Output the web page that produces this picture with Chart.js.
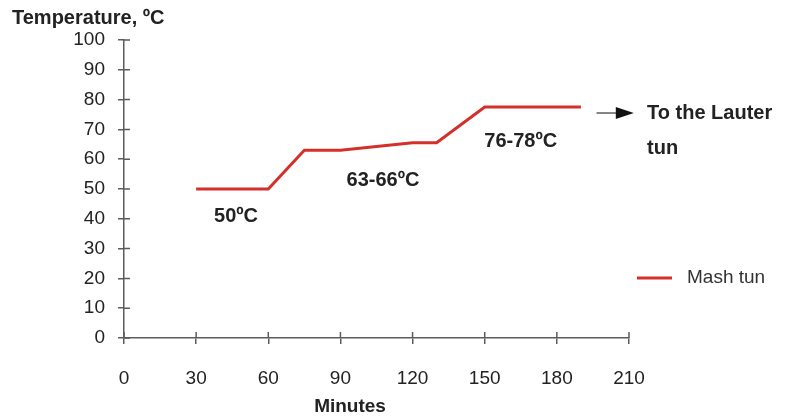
<!DOCTYPE html>
<html>
<head>
<meta charset="utf-8">
<script src="https://cdn.jsdelivr.net/npm/chart.js@4"></script>
<style>
  html, body { margin: 0; padding: 0; background: #fff; }
  #wrap { width: 788px; height: 418px; }
</style>
</head>
<body>
<div id="wrap"><canvas id="mashChart" width="788" height="418"></canvas></div>
<script>
// mashing profile
const minutes = [30, 60, 75, 90, 120, 130, 150, 190];
const temps = [50, 50, 63, 63, 65.5, 65.5, 77.5, 77.5];
const xTicks = [0, 30, 60, 90, 120, 150, 180, 210];
const yTicks = [0, 10, 20, 30, 40, 50, 60, 70, 80, 90, 100];

// stage labels (in minutes / degrees)
const stageText = ['50ºC', '63-66ºC', '76-78ºC'];
const stageX = [46.6, 107.7, 165];
const stageY = [40.9, 52.7, 65.8];

const FONT = "'Liberation Sans', Arial, sans-serif";
const RED = '#d4302b';
const AXIS = '#5c5c5c';

// inner tick marks, stage labels, arrow, x title and legend
const extras = {
  id: 'extras',
  afterDraw(chart) {
    const { ctx, chartArea } = chart;
    const xs = chart.scales.x, ys = chart.scales.y;
    ctx.save();

    ctx.strokeStyle = AXIS;
    ctx.lineWidth = 1.5;
    ctx.beginPath();
    ys.ticks.forEach((t, i) => {
      const py = ys.getPixelForTick(i);
      ctx.moveTo(xs.left, py); ctx.lineTo(xs.left + 6, py);
    });
    xs.ticks.forEach((t, i) => {
      const px = xs.getPixelForTick(i);
      ctx.moveTo(px, ys.bottom); ctx.lineTo(px, ys.bottom - 6);
    });
    ctx.stroke();

    ctx.fillStyle = '#222';
    ctx.font = 'bold 20px ' + FONT;
    ctx.textAlign = 'center';
    ctx.textBaseline = 'middle';
    stageText.forEach((s, i) => {
      ctx.fillText(s, xs.getPixelForValue(stageX[i]), ys.getPixelForValue(stageY[i]));
    });

    // x axis title sits a bit left of the axis middle
    ctx.font = 'bold 19px ' + FONT;
    ctx.fillText('Minutes', xs.getPixelForValue(94), chart.height - 11);

    // arrow to the lauter tun
    ctx.font = 'bold 20px ' + FONT;
    const ay = ys.getPixelForValue(75.5);
    const ax0 = xs.getPixelForValue(196.5);
    const ax1 = xs.getPixelForValue(212);
    ctx.strokeStyle = '#333';
    ctx.lineWidth = 1.2;
    ctx.beginPath();
    ctx.moveTo(ax0, ay); ctx.lineTo(ax1 - 16, ay);
    ctx.stroke();
    ctx.fillStyle = '#111';
    ctx.beginPath();
    ctx.moveTo(ax1, ay); ctx.lineTo(ax1 - 18, ay - 6); ctx.lineTo(ax1 - 18, ay + 6);
    ctx.closePath();
    ctx.fill();

    ctx.fillStyle = '#222';
    ctx.textAlign = 'left';
    const tx = xs.getPixelForValue(217.5);
    ctx.fillText('To the Lauter', tx, ay);
    ctx.fillText('tun', tx, ys.getPixelForValue(63.6));

    // legend
    const ds = chart.data.datasets[0];
    const ly = chartArea.bottom - 60;
    const lx = chartArea.right + 8;
    ctx.strokeStyle = ds.borderColor;
    ctx.lineWidth = 3;
    ctx.beginPath();
    ctx.moveTo(lx, ly); ctx.lineTo(lx + 35, ly);
    ctx.stroke();
    ctx.fillStyle = '#333';
    ctx.font = '19px ' + FONT;
    ctx.fillText(ds.label, lx + 50, ly);

    ctx.restore();
  }
};

const ctx = document.getElementById('mashChart').getContext('2d');
new Chart(ctx, {
  type: 'line',
  data: {
    datasets: [{
      label: 'Mash tun',
      data: minutes.map((m, i) => ({ x: m, y: temps[i] })),
      borderColor: RED,
      borderWidth: 3,
      pointRadius: 0,
      tension: 0,
      fill: false
    }]
  },
  options: {
    responsive: false,
    animation: false,
    layout: { padding: { left: 12, right: 159, top: 0, bottom: 0 } },
    plugins: {
      legend: { display: false },
      tooltip: { enabled: false },
      title: {
        display: true,
        text: 'Temperature, ºC',
        align: 'start',
        color: '#222',
        font: { family: FONT, size: 20, weight: 'bold' },
        padding: { top: 6, bottom: 10 }
      }
    },
    scales: {
      x: {
        type: 'linear',
        min: 0,
        max: 210,
        afterBuildTicks: s => { s.ticks = xTicks.map(v => ({ value: v })); },
        afterFit: s => { s.height = 80; },
        ticks: { color: '#222', padding: 23, font: { family: FONT, size: 19 } },
        grid: { drawOnChartArea: false, tickLength: 6, color: AXIS, lineWidth: 1.5 },
        border: { color: AXIS, width: 1.5 }
      },
      y: {
        min: 0,
        max: 100,
        afterBuildTicks: s => { s.ticks = yTicks.map(v => ({ value: v })); },
        afterFit: s => { s.width = 112; },
        ticks: { color: '#222', padding: 13, font: { family: FONT, size: 19 } },
        grid: { drawOnChartArea: false, tickLength: 6, color: AXIS, lineWidth: 1.5 },
        border: { color: AXIS, width: 1.5 }
      }
    }
  },
  plugins: [extras]
});
</script>
</body>
</html>
